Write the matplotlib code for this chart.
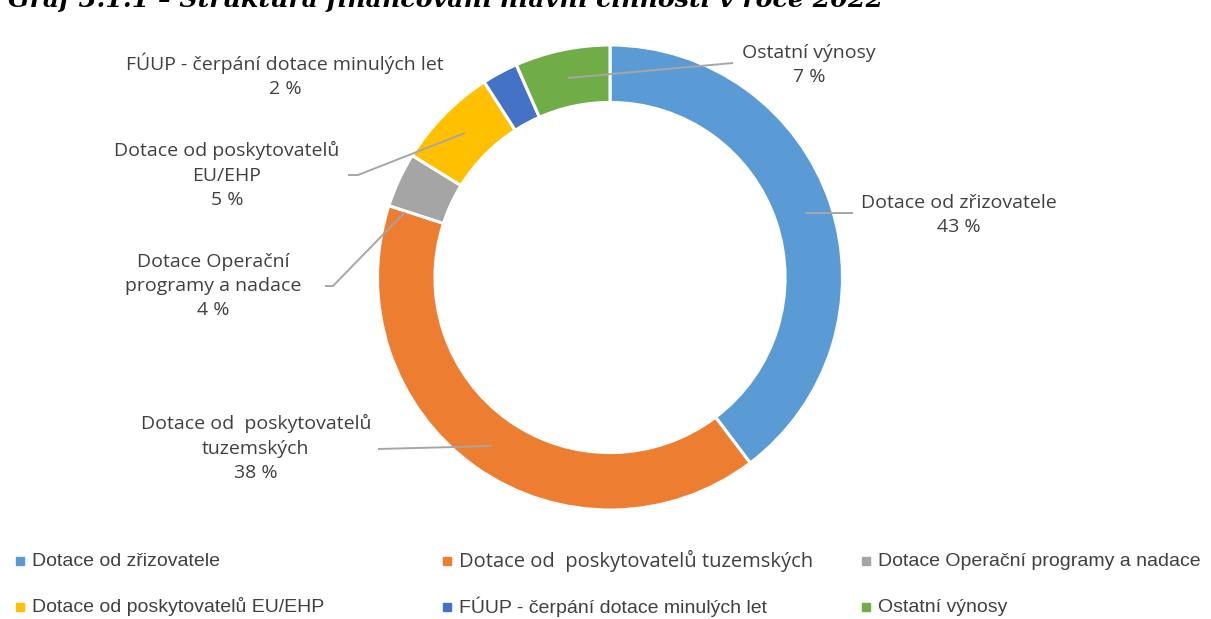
import matplotlib
matplotlib.use("Agg")
import matplotlib.pyplot as plt
from matplotlib import font_manager
from matplotlib.patches import Rectangle

# data
categories = ["Dotace od zřizovatele", "Dotace od  poskytovatelů tuzemských",
              "Dotace Operační programy a nadace", "Dotace od poskytovatelů EU/EHP",
              "FÚUP - čerpání dotace minulých let", "Ostatní výnosy"]
# arc shares as drawn in the picture (%)
shares = [39.7, 40.3, 3.8, 7.1, 2.5, 6.6]
# percentages printed on the labels
pct_labels = ["43 %", "38 %", "4 %", "5 %", "2 %", "7 %"]
label_texts = ["Dotace od zřizovatele", "Dotace od  poskytovatelů\ntuzemských",
               "Dotace Operační\nprogramy a nadace", "Dotace od poskytovatelů\nEU/EHP",
               "FÚUP - čerpání dotace minulých let", "Ostatní výnosy"]
colors = ["#5B9BD5", "#ED7D31", "#A5A5A5", "#FFC000", "#4472C4", "#70AD47"]
title = "Graf 3.1.1 – Struktura financování hlavní činnosti v roce 2022"

names = {f.name for f in font_manager.fontManager.ttflist}
narrow = "Liberation Sans Narrow" if "Liberation Sans Narrow" in names else "Liberation Sans"

W, H = 1211, 619
fig = plt.figure(figsize=(W / 100, H / 100), dpi=100)

cx, cy, R = 610, 277.5, 232.5
ax = fig.add_axes([(cx - R) / W, (H - cy - R) / H, 2 * R / W, 2 * R / H])
ax.pie(shares, colors=colors, startangle=90, counterclock=False, radius=1,
       wedgeprops=dict(width=0.247, edgecolor="white", linewidth=2.2))
ax.set_xlim(-1, 1)
ax.set_ylim(-1, 1)
ax.axis("off")


def px(x, y):
    return (x - cx) / R, (cy - y) / R


lab_font = dict(family="Open Sans", fontsize=14, color="#404040",
                ha="center", va="center", linespacing=1.45)
label_pos = [(959, 215), (256, 448), (213, 286), (227, 175), (285, 75), (809, 65)]
for txt, pct, (x, y) in zip(label_texts, pct_labels, label_pos):
    ax.text(*px(x, y), txt + "\n" + pct, clip_on=False, **lab_font)

leaders = [
    [(805, 213), (853, 213)],
    [(378, 449), (492, 446)],
    [(325, 286), (333, 286), (405, 212)],
    [(348, 175), (358, 175), (465, 133)],
    None,
    [(568, 78), (733, 63)],
]
for pts in leaders:
    if pts is None:
        continue
    xs, ys = zip(*[px(*p) for p in pts])
    ax.plot(xs, ys, color="#A6A6A6", lw=1.4, clip_on=False, solid_capstyle="butt")

# legend drawn by hand, two rows of three
leg_x = [20, 447, 866]
leg_y = [561, 607]
leg_size = [14, 14.5, 14, 14, 14, 14]
leg_family = [narrow, "Open Sans", narrow, narrow, narrow, narrow]
for i, (name, col) in enumerate(zip(categories, colors)):
    x = leg_x[i % 3]
    y = leg_y[i // 3]
    fig.add_artist(Rectangle(((x - 4) / W, (H - y - 4) / H), 8 / W, 8 / H,
                             transform=fig.transFigure, color=col))
    fig.text((x + 12) / W, (H - y) / H, name, fontsize=leg_size[i],
             family=leg_family[i], color="#404040", va="center", ha="left")

# title, cut at the top edge as in the picture
fig.text(8 / W, 1 - 7 / H, title, family="DejaVu Serif", weight="bold",
         style="italic", fontsize=18.2, color="black", va="baseline", ha="left")

fig.savefig("out.png", dpi=100)
